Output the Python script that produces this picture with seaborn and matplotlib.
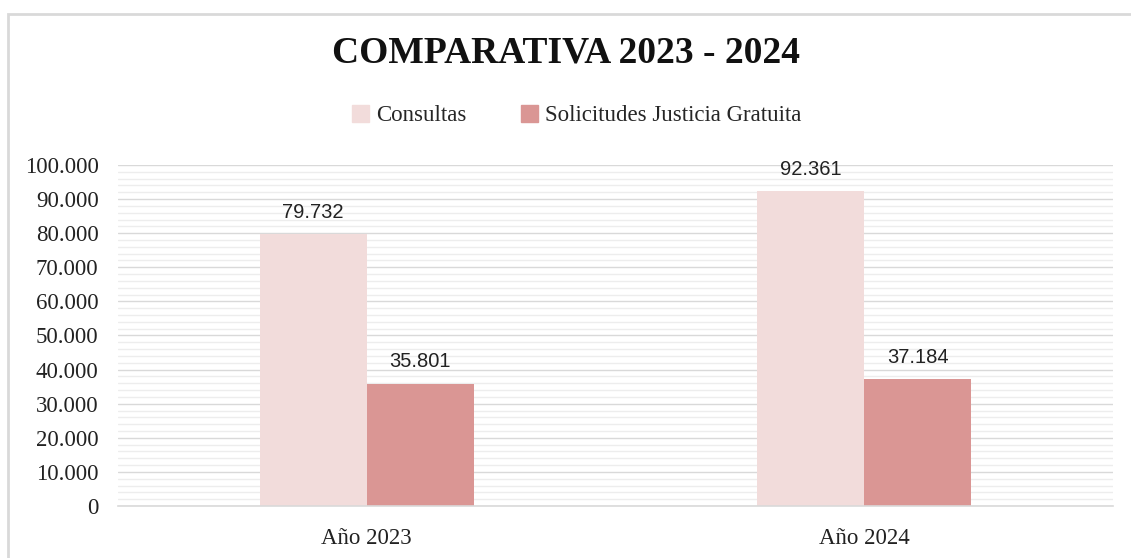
import seaborn as sns
import matplotlib.pyplot as plt
import pandas as pd
from matplotlib.ticker import MultipleLocator, FuncFormatter
from matplotlib.patches import Rectangle

years = ['Año 2023', 'Año 2024']
series = ['Consultas', 'Solicitudes Justicia Gratuita']
consultas = [79732, 92361]
solicitudes = [35801, 37184]
colors = ['#F2DCDB', '#DA9694']

df = pd.DataFrame({
    'year': years * 2,
    'serie': [series[0]] * 2 + [series[1]] * 2,
    'value': consultas + solicitudes,
})

sns.set_style('white')
serif = ['Liberation Serif', 'DejaVu Serif']


def miles(v, pos):
    # formato español: punto como separador de miles
    return f'{int(v):,}'.replace(',', '.')


fig = plt.figure(figsize=(11.31, 5.58), dpi=100)
ax = fig.add_axes([0.1043, 0.0932, 0.8797, 0.6111])

sns.barplot(data=df, x='year', y='value', hue='serie', palette=colors,
            width=0.43, gap=0, saturation=1, linewidth=0, ax=ax, legend=False)

ax.set_ylim(0, 100000)
ax.set_xlim(-0.5, 1.5)
ax.yaxis.set_major_locator(MultipleLocator(10000))
ax.yaxis.set_minor_locator(MultipleLocator(2000))
ax.yaxis.set_major_formatter(FuncFormatter(miles))
ax.grid(axis='y', which='major', color='#D9D9D9', linewidth=1)
ax.grid(axis='y', which='minor', color='#EDEDED', linewidth=1)
ax.set_axisbelow(True)
for s in ['top', 'right', 'left']:
    ax.spines[s].set_visible(False)
ax.spines['bottom'].set_color('#D9D9D9')
ax.spines['bottom'].set_linewidth(1.2)

ax.set_xlabel('')
ax.set_ylabel('')
ax.set_xticks([0, 1])
ax.set_xticklabels(years, fontsize=16.5, family=serif, color='#222222')
ax.tick_params(axis='x', length=0, pad=16)
ax.tick_params(axis='y', which='both', length=0, pad=14)
for t in ax.get_yticklabels():
    t.set_family(serif)
    t.set_fontsize(16.5)
    t.set_color('#222222')

# separadores de categoría en el eje x
ax.set_xticks([-0.5, 0.5, 1.5], minor=True)
ax.tick_params(axis='x', which='minor', length=7, color='#D9D9D9', width=1.2)

for cont in ax.containers:
    ax.bar_label(cont, labels=[miles(v, None) for v in cont.datavalues],
                 padding=9, fontsize=14.5, family=['Liberation Sans', 'DejaVu Sans'],
                 color='#222222')

fig.text(0.5, 0.905, 'COMPARATIVA 2023 - 2024', ha='center', va='center',
         fontsize=27, fontweight='bold', family=serif, color='#111111')

handles = [Rectangle((0, 0), 1, 1, color=c) for c in colors]
fig.legend(handles, series, loc='center', bbox_to_anchor=(0.51, 0.793), ncol=2,
           frameon=False, prop={'family': serif, 'size': 16.5}, handlelength=0.75,
           handleheight=0.75, handletextpad=0.3, columnspacing=2.4)

# marco exterior del gráfico
fig.patches.append(Rectangle((0.0075, -0.1), 1.1, 1.075, transform=fig.transFigure,
                             fill=False, edgecolor='#D9D9D9', linewidth=2))

plt.savefig('out.png', dpi=100)
